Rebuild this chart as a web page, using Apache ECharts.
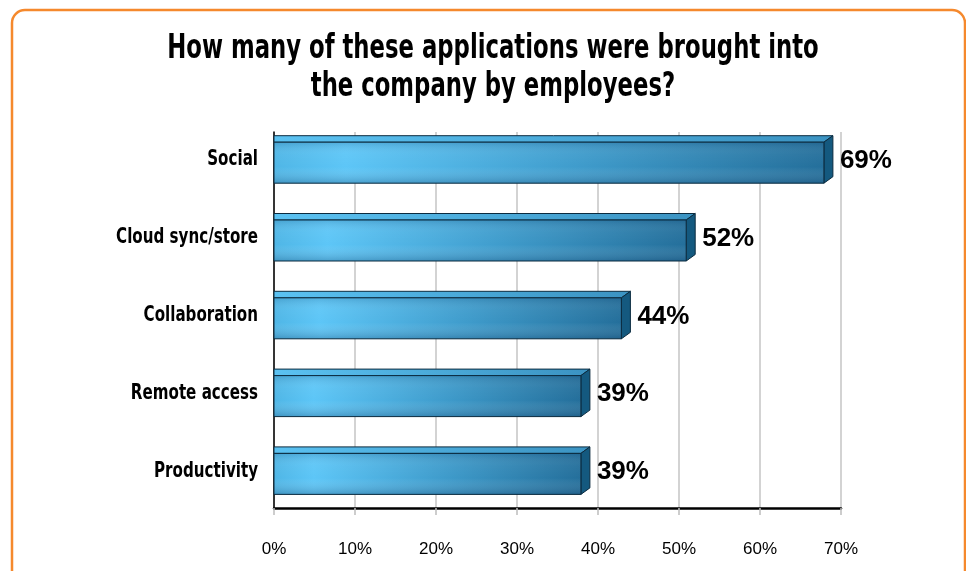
<!DOCTYPE html>
<html>
<head>
<meta charset="utf-8">
<script src="https://cdn.jsdelivr.net/npm/echarts@6/dist/echarts.min.js"></script>
<style>
html,body{margin:0;padding:0;background:#fff;}
#main{width:966px;height:571px;}
</style>
</head>
<body>
<div id="main"></div>
<script>
const titleLines = ['How many of these applications were brought into', 'the company by employees?'];
const categories = ['Social', 'Cloud sync/store', 'Collaboration', 'Remote access', 'Productivity'];
const values = [69, 52, 44, 39, 39];
const axisMin = 0, axisMax = 70, axisStep = 10;

const NARROW = "'Liberation Sans Narrow', 'Arial Narrow', 'DejaVu Sans Condensed', sans-serif";
const SANS = "'Liberation Sans', Arial, sans-serif";

const chart = echarts.init(document.getElementById('main'), null, {renderer: 'canvas'});

function renderBar(params, api) {
  const v = api.value(0);
  const idx = api.value(1);
  const p0 = api.coord([0, idx]);
  const p1 = api.coord([v, idx]);
  const c = p0[1];
  const x0 = p0[0];
  const xb = p1[0];
  const d = 9, dy = 6.5, h = 41;
  const fTop = c - 15.7, fBot = fTop + h;
  const xf = xb - d;
  const stroke = '#0b2b3f';
  return {
    type: 'group',
    children: [
      {
        type: 'polygon',
        shape: {points: [[x0, fTop], [x0, fTop - dy], [xb, fTop - dy], [xf, fTop]]},
        style: {
          fill: {type: 'linear', x: 0, y: 0, x2: 1, y2: 0, colorStops: [
            {offset: 0, color: '#5bc2f2'}, {offset: 1, color: '#3b93c2'}]},
          stroke: stroke, lineWidth: 1
        }
      },
      {
        type: 'polygon',
        shape: {points: [[xf, fTop], [xb, fTop - dy], [xb, fBot - dy], [xf, fBot]]},
        style: {fill: '#14597f', stroke: stroke, lineWidth: 1}
      },
      {
        type: 'rect',
        shape: {x: x0, y: fTop, width: xf - x0, height: h},
        style: {
          fill: {type: 'linear', x: 0, y: 0, x2: 1, y2: 0, colorStops: [
            {offset: 0, color: '#4fb6e6'}, {offset: 0.13, color: '#5dc6f7'},
            {offset: 0.55, color: '#3f9ccc'}, {offset: 1, color: '#246f9b'}]}
        }
      },
      {
        type: 'rect',
        shape: {x: x0, y: fTop, width: xf - x0, height: h},
        style: {
          fill: {type: 'linear', x: 0, y: 0, x2: 0, y2: 1, colorStops: [
            {offset: 0, color: 'rgba(10,50,90,0.18)'}, {offset: 0.3, color: 'rgba(255,255,255,0.04)'},
            {offset: 0.6, color: 'rgba(255,255,255,0)'}, {offset: 1, color: 'rgba(10,50,90,0.28)'}]},
          stroke: stroke, lineWidth: 1
        }
      },
      {
        type: 'text',
        style: {
          x: xb + 7, y: c + 3, text: v + '%',
          fill: '#000', fontFamily: SANS, fontWeight: 'bold', fontSize: 26,
          textAlign: 'left', textVerticalAlign: 'middle'
        }
      },
      {
        type: 'text',
        x: x0 - 16, y: c + 2, scaleX: 0.8, scaleY: 1,
        style: {
          x: 0, y: 0, text: categories[idx],
          fill: '#000', fontFamily: NARROW, fontWeight: 'bold', fontSize: 21,
          textAlign: 'right', textVerticalAlign: 'middle'
        }
      }
    ]
  };
}

const option = {
  backgroundColor: '#ffffff',
  animation: false,
  graphic: [
    {
      type: 'rect', z: -10, silent: true,
      shape: {x: 12, y: 10, width: 953, height: 575, r: 13},
      style: {fill: '#ffffff', stroke: '#F5892D', lineWidth: 2.5}
    },
    {
      type: 'text', z: 10,
      x: 493, y: 30, scaleX: 0.767, scaleY: 1,
      style: {
        x: 0, y: 0, text: titleLines.join('\n'),
        fontFamily: NARROW, fontWeight: 'bold', fontSize: 33, lineHeight: 38,
        fill: '#000', textAlign: 'center', textVerticalAlign: 'top'
      }
    }
  ],
  grid: [
    {left: 274, right: 125, top: 119, bottom: 63},
    {left: 274, right: 125, top: 132, bottom: 63}
  ],
  xAxis: [
    {
      type: 'value', gridIndex: 0, min: axisMin, max: axisMax, interval: axisStep,
      axisLine: {show: true, lineStyle: {color: '#000', width: 2.5}},
      axisTick: {show: true, length: 7, lineStyle: {color: '#bdbdbd', width: 1.5}},
      splitLine: {show: false},
      axisLabel: {margin: 33, formatter: '{value}%', color: '#000', fontFamily: SANS, fontSize: 17}
    },
    {
      type: 'value', gridIndex: 1, min: axisMin, max: axisMax, interval: axisStep,
      axisLine: {show: false}, axisTick: {show: false}, axisLabel: {show: false},
      splitLine: {show: true, lineStyle: {color: '#c4c4c4', width: 1.5}}
    }
  ],
  yAxis: [
    {
      type: 'category', gridIndex: 0, data: categories, inverse: true,
      axisLine: {show: false}, axisTick: {show: false}, axisLabel: {show: false}
    },
    {
      type: 'category', gridIndex: 1, data: categories, inverse: true,
      axisLine: {show: true, onZero: false, lineStyle: {color: '#000', width: 1.5}},
      axisTick: {show: false}, axisLabel: {show: false}
    }
  ],
  series: [
    {
      type: 'custom',
      xAxisIndex: 0, yAxisIndex: 0,
      renderItem: renderBar,
      encode: {x: 0, y: 1},
      data: values.map((v, i) => [v, i]),
      clip: false,
      z: 5
    }
  ]
};
chart.setOption(option);
</script>
</body>
</html>
